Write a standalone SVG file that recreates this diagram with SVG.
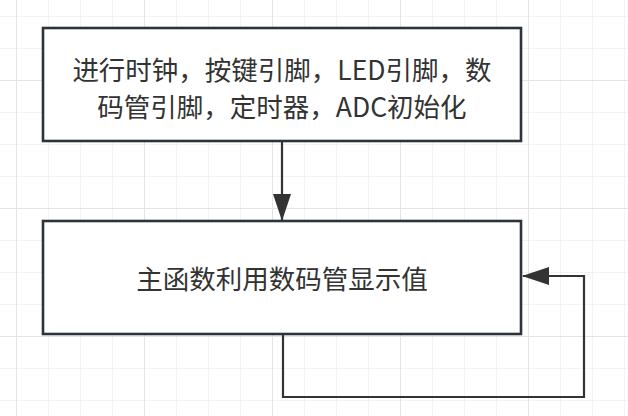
<svg xmlns="http://www.w3.org/2000/svg" width="628" height="416" viewBox="0 0 628 416">
  <defs>
    <pattern id="minor" x="16" y="16" width="32" height="32" patternUnits="userSpaceOnUse">
      <path d="M0 0 V32 M0 0 H32" fill="none" stroke="#efefef" stroke-width="1.5"/>
    </pattern>
    <pattern id="major" x="16" y="80" width="128" height="128" patternUnits="userSpaceOnUse">
      <path d="M0 0 V128 M0 0 H128" fill="none" stroke="#e4e4e4" stroke-width="2"/>
    </pattern>
    <marker id="arrow" viewBox="0 0 27 18" refX="26" refY="9" markerWidth="27" markerHeight="18" markerUnits="userSpaceOnUse" orient="auto">
      <path d="M0 0 L27 9 L0 18 Z" fill="#333333"/>
    </marker>
    <style>
      .box { fill: #ffffff; stroke: #2c333a; stroke-width: 2.6; }
      .label { font-family: "Noto Sans CJK SC", "Noto Sans", sans-serif; font-size: 26.5px; fill: #333333; text-anchor: middle; }
      .edge { fill: none; stroke: #333333; stroke-width: 2.2; }
    </style>
  </defs>
  <rect width="628" height="416" fill="#ffffff"/>
  <rect width="628" height="416" fill="url(#minor)"/>
  <rect width="628" height="416" fill="url(#major)"/>

  <g id="connectors">
    <path class="edge" d="M282 141 V220" marker-end="url(#arrow)"/>
    <path class="edge" d="M283 334 V397 H584 V276 H523" marker-end="url(#arrow)"/>
  </g>

  <g id="node-init">
    <rect class="box" x="43" y="28" width="478" height="113"/>
    <text class="label" x="282" y="80">进行时钟，按键引脚，LED引脚，数</text>
    <text class="label" x="282" y="117">码管引脚，定时器，ADC初始化</text>
  </g>

  <g id="node-main">
    <rect class="box" x="43" y="221" width="478" height="113"/>
    <text class="label" x="282" y="289">主函数利用数码管显示值</text>
  </g>
</svg>
